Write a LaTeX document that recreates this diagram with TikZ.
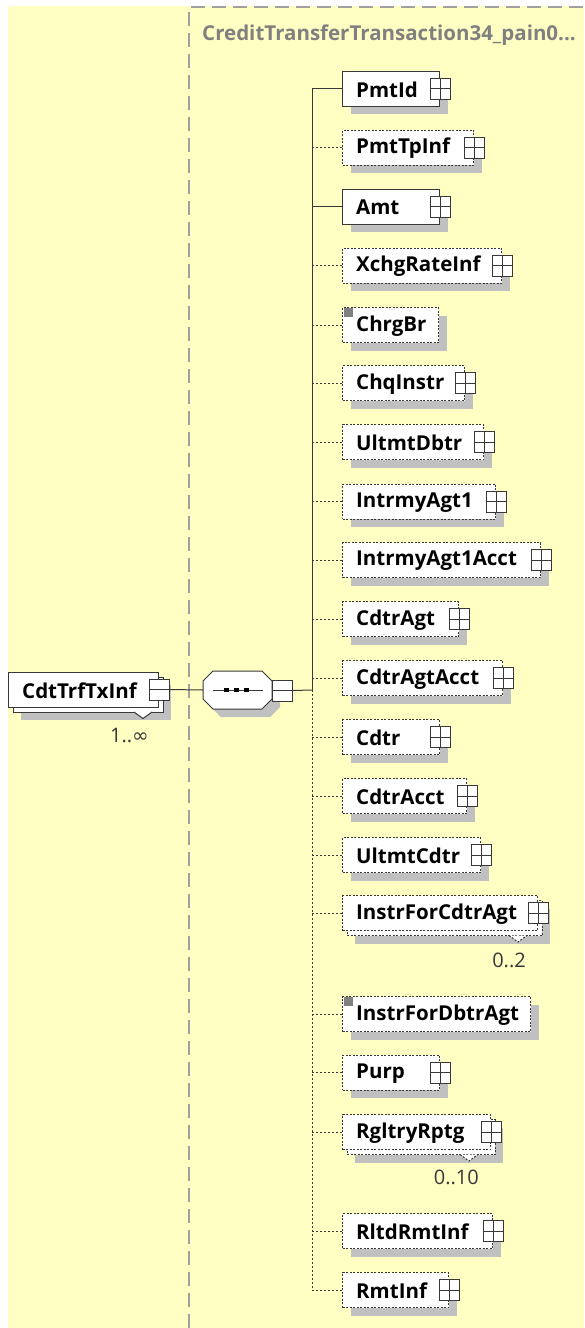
\documentclass[tikz,border=0pt]{standalone}
\usepackage{fontspec}
\setmainfont{Open Sans}
\newfontfamily\djv{DejaVu Sans}
\usetikzlibrary{shadows,calc}
\definecolor{bgy}{RGB}{255,255,196}
\definecolor{shc}{RGB}{192,192,192}
\definecolor{bord}{RGB}{56,56,56}
\definecolor{titc}{RGB}{128,128,128}
\definecolor{framec}{RGB}{160,160,160}
\tikzset{
 itembox/.style={draw=bord, line width=1pt, fill=white, rectangle, minimum height=35pt, inner sep=0pt, anchor=west},
 shad/.style={drop shadow={shadow xshift=8pt, shadow yshift=-8pt, fill=shc, opacity=1}},
 optb/.style={dash pattern=on 2pt off 1.5pt},
 solb/.style={},
 lab/.style={font=\bfseries\fontsize{20.5}{20.5}\selectfont, anchor=west, inner sep=0pt},
 pbox/.style={draw=bord, line width=1pt, fill=white, minimum width=20pt, minimum height=21pt, inner sep=0pt},
 conn/.style={draw=bord, line width=1pt},
 optconn/.style={conn, dash pattern=on 2pt off 2pt},
 mult/.style={font=\fontsize{20}{20}\selectfont, text=bord, inner sep=0pt, anchor=east},
 backbox/.style={draw=bord, line width=1pt, fill=white},
 icon/.style={fill=gray},
}
\newcommand\multibg[5]{% left, y, right, notch x, border style
 \fill[shc] (#1+13,#2-4.5) rectangle (#3+13,#2+30.5);
 \filldraw[backbox,#5] (#1+5,#2-12.5) rectangle (#3+5,#2+22.5);
 \filldraw[backbox,#5] (#4-9,#2+22.5) -- (#4,#2+29) -- (#4+9,#2+22.5);
}
\begin{document}
\begin{tikzpicture}[x=1pt,y=-1pt]
\useasboundingbox (0,0) rectangle (584,1328);
\fill[white] (0,0) rectangle (584,1328);
\fill[bgy] (8,6) rectangle (584,1328);
\draw[framec, line width=1.5pt, dash pattern=on 14pt off 7pt] (189,1328) -- (189,7) -- (584,7);
\node[lab, text=titc] (title) at (202,35) {CreditTransferTransaction34\_pain0...};

% root element
\multibg{8}{689.5}{158}{143}{solb}
\node[itembox, minimum width=150pt] (root) at (8,689.5) {};
\node[lab] (rootl) at (22,690.5) {CdtTrfTxInf};
\node[pbox] (rootm) at (root.east) {};
\draw[bord, line width=1pt] (rootm.west) -- (rootm.east);
\node[mult] (rootc) at (149,735) {1..{\djv ∞}};

% sequence (octagon)
\fill[shc] (221,679) -- (270,679) -- (280,689) -- (280,707) -- (270,717) -- (221,717) -- (211,707) -- (211,689) -- cycle;
\filldraw[draw=bord, line width=1pt, fill=white] (213,671) -- (262,671) -- (272,681) -- (272,699) -- (262,709) -- (213,709) -- (203,699) -- (203,681) -- cycle;
\node[minimum width=69pt, minimum height=38pt, inner sep=0pt] (seq) at (237.5,690) {};
\draw[bord, line width=1pt] ($(seq.west)+(10,0)$) -- ($(seq.east)+(-9,0)$);
\foreach \dx in {-11,-1,9} \fill[black] ($(seq.center)+(\dx-2.5,-2)$) rectangle ++(5,4);
\node[pbox] (seqm) at ($(seq.east)+(10,0.5)$) {};
\draw[bord, line width=1pt] (seqm.west) -- (seqm.east);

% multi backgrounds
\multibg{342}{913}{537}{518}{optb}
\multibg{342}{1132}{490}{469}{optb}

\foreach \n/\y/\r/\t/\s/\p/\sh in {
 PmtId/88.5/439/PmtId/solb/1/shad,
 PmtTpInf/147.5/473/PmtTpInf/optb/1/shad,
 Amt/206.5/439/Amt/solb/1/shad,
 XchgRateInf/265.5/501/XchgRateInf/optb/1/shad,
 ChrgBr/325/438/ChrgBr/optb/0/shad,
 ChqInstr/383/464/ChqInstr/optb/1/shad,
 UltmtDbtr/442/483/UltmtDbtr/optb/1/shad,
 IntrmyAgtA/501.5/495/IntrmyAgt1/optb/1/shad,
 IntrmyAgtAcct/560/540/IntrmyAgt1Acct/optb/1/shad,
 CdtrAgt/619/458/CdtrAgt/optb/1/shad,
 CdtrAgtAcct/678/502/CdtrAgtAcct/optb/1/shad,
 Cdtr/737/439/Cdtr/optb/1/shad,
 CdtrAcct/796/466/CdtrAcct/optb/1/shad,
 UltmtCdtr/855/480/UltmtCdtr/optb/1/shad,
 InstrForCdtrAgt/913/537/InstrForCdtrAgt/optb/1/solb,
 InstrForDbtrAgt/1014/530/InstrForDbtrAgt/optb/0/shad,
 Purp/1072.5/439/Purp/optb/1/shad,
 RgltryRptg/1132/490/RgltryRptg/optb/1/solb,
 RltdRmtInf/1231/492/RltdRmtInf/optb/1/shad,
 RmtInf/1290/448/RmtInf/optb/1/shad%
}{
 \node[itembox, \s, \sh, minimum width=\r-342] (\n) at (342,\y) {};
 \node[lab] (\n-l) at (356,\y+1) {\t};
 \ifnum\p=1
  \node[pbox] (\n-p) at (\n.east) {};
  \draw[bord, line width=1pt] (\n-p.west) -- (\n-p.east) (\n-p.north) -- (\n-p.south);
 \fi
}
\fill[icon] (344,308) rectangle (353,317);
\fill[icon] (344,997) rectangle (353,1006);

\node[mult] (m1) at (526,960) {0..2};
\node[mult] (m2) at (479,1177) {0..10};

% connectors
\coordinate (tr) at (312,690);
\draw[conn] (root.east -| rootm.east) -- (seq.west);
\draw[conn] (seqm.east) -- (tr);
\draw[conn] (tr) -- (tr |- PmtId.west) -- (PmtId.west);
\draw[conn] (tr |- Amt.west) -- (Amt.west);
\draw[optconn] (tr) -- (tr |- RmtInf.west) -- (RmtInf.west);
\foreach \n in {PmtTpInf,XchgRateInf,ChrgBr,ChqInstr,UltmtDbtr,IntrmyAgtA,IntrmyAgtAcct,CdtrAgt,CdtrAgtAcct,Cdtr,CdtrAcct,UltmtCdtr,InstrForCdtrAgt,InstrForDbtrAgt,Purp,RgltryRptg,RltdRmtInf}
 \draw[optconn] (tr |- \n.west) -- (\n.west);
\end{tikzpicture}
\end{document}
